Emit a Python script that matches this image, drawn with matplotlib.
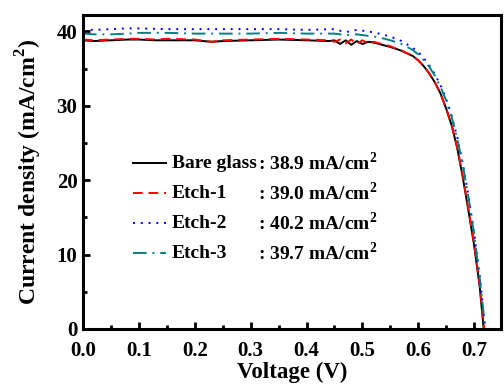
import matplotlib
matplotlib.use("Agg")
import matplotlib.pyplot as plt
from matplotlib.ticker import MultipleLocator, FormatStrFormatter

plt.rcParams['font.family'] = ['Liberation Serif', 'DejaVu Serif']
plt.rcParams['font.weight'] = 'bold'
plt.rcParams['mathtext.fontset'] = 'custom'
plt.rcParams['mathtext.rm'] = 'Liberation Serif:bold'
plt.rcParams['mathtext.bf'] = 'Liberation Serif:bold'

# Bare glass
v_bare = [0.0, 0.02, 0.05, 0.08, 0.1, 0.13, 0.15, 0.2, 0.23, 0.25, 0.3, 0.35, 0.4, 0.44,
          0.45, 0.46, 0.47, 0.48, 0.49, 0.50, 0.51, 0.52, 0.53, 0.55, 0.57, 0.59, 0.60,
          0.61, 0.62, 0.63, 0.64, 0.65, 0.66, 0.67, 0.68, 0.69, 0.70, 0.71, 0.717]
j_bare = [38.8, 38.7, 38.8, 38.9, 38.9, 38.8, 38.8, 38.8, 38.6, 38.7, 38.8, 38.9, 38.8, 38.7,
          38.8, 38.3, 38.8, 38.2, 38.7, 38.3, 38.6, 38.5, 38.3, 37.9, 37.4, 36.7, 36.1,
          35.3, 34.3, 33.1, 31.6, 29.6, 27.3, 24.2, 20.2, 15.8, 11.2, 5.6, 0.0]

# Etch-1
v_e1 = [0.0, 0.02, 0.05, 0.08, 0.1, 0.13, 0.15, 0.2, 0.23, 0.25, 0.3, 0.35, 0.4, 0.44,
        0.45, 0.46, 0.47, 0.48, 0.49, 0.50, 0.51, 0.52, 0.53, 0.55, 0.57, 0.59, 0.60,
        0.61, 0.62, 0.63, 0.64, 0.65, 0.66, 0.67, 0.68, 0.69, 0.70, 0.71, 0.718]
j_e1 = [38.9, 38.8, 38.9, 39.0, 39.0, 38.9, 39.0, 38.9, 38.6, 38.8, 38.9, 39.0, 38.9, 38.8,
        38.6, 38.9, 38.4, 38.9, 38.3, 38.8, 38.4, 38.6, 38.4, 38.0, 37.4, 36.7, 36.1,
        35.3, 34.3, 33.1, 31.6, 29.6, 27.3, 24.3, 20.4, 16.0, 11.4, 5.9, 0.0]

# Etch-2
v_e2 = [0.0, 0.02, 0.05, 0.08, 0.1, 0.15, 0.2, 0.25, 0.3, 0.35, 0.4, 0.45, 0.47, 0.49,
        0.51, 0.53, 0.55, 0.57, 0.59, 0.60, 0.61, 0.62, 0.63, 0.64, 0.65, 0.66, 0.67,
        0.68, 0.69, 0.70, 0.71, 0.72]
j_e2 = [40.2, 40.2, 40.3, 40.4, 40.4, 40.3, 40.3, 40.3, 40.3, 40.3, 40.2, 40.3, 39.9, 40.2,
        40.0, 39.7, 39.3, 38.7, 37.8, 37.2, 36.4, 35.4, 34.2, 32.7, 30.9, 28.6, 25.7,
        22.1, 17.8, 12.9, 7.0, 0.0]

# Etch-3
v_e3 = [0.0, 0.02, 0.05, 0.08, 0.1, 0.15, 0.2, 0.25, 0.3, 0.35, 0.4, 0.45, 0.47, 0.49,
        0.51, 0.53, 0.55, 0.57, 0.59, 0.60, 0.61, 0.62, 0.63, 0.64, 0.65, 0.66, 0.67,
        0.68, 0.69, 0.70, 0.71, 0.72]
j_e3 = [39.7, 39.6, 39.6, 39.7, 39.8, 39.8, 39.7, 39.7, 39.7, 39.8, 39.7, 39.7, 39.5, 39.6,
        39.4, 39.2, 38.8, 38.3, 37.5, 36.9, 36.1, 35.2, 34.0, 32.5, 30.7, 28.4, 25.5,
        21.9, 17.6, 12.7, 6.8, 0.0]

labels = ['Bare glass', 'Etch-1', 'Etch-2', 'Etch-3']
jsc_texts = [': 38.9 mA/cm$^{2}$', ': 39.0 mA/cm$^{2}$', ': 40.2 mA/cm$^{2}$', ': 39.7 mA/cm$^{2}$']
colors = ['black', 'red', 'blue', '#008080']
styles = ['-', (0, (5, 3)), (0, (1, 3)), (0, (7, 3, 1, 3))]

fig = plt.figure(figsize=(5.04, 3.9), dpi=100)
ax = fig.add_axes([83/504, 1 - 329/390, (501 - 83)/504, (329 - 15)/390])

series = [(v_bare, j_bare), (v_e1, j_e1), (v_e2, j_e2), (v_e3, j_e3)]
for (v, j), c, ls in zip(series, colors, styles):
    ax.plot(v, j, color=c, linestyle=ls, linewidth=1.4)

ax.set_xlim(0, 0.748)
ax.set_ylim(0, 42.2)
ax.xaxis.set_major_locator(MultipleLocator(0.1))
ax.xaxis.set_minor_locator(MultipleLocator(0.05))
ax.yaxis.set_major_locator(MultipleLocator(10))
ax.yaxis.set_minor_locator(MultipleLocator(5))
ax.xaxis.set_major_formatter(FormatStrFormatter('%.1f'))
ax.tick_params(which='both', direction='in', top=False, right=False, width=2,
               labelsize=15)
ax.tick_params(axis='x', which='major', pad=9)
ax.tick_params(axis='y', which='major', pad=4)
ax.tick_params(which='major', length=5)
ax.tick_params(which='minor', length=3)
for s in ax.spines.values():
    s.set_linewidth(2.2)
for lab in ax.get_xticklabels() + ax.get_yticklabels():
    lab.set_fontweight('bold')

ax.set_xlabel('Voltage (V)', fontsize=16.5, fontweight='bold', labelpad=0.5)
ax.set_ylabel('Current density (mA/cm$^{2}$)', fontsize=17, fontweight='bold', labelpad=9)

# manual legend
trans = ax.transAxes
def ax_x(px):
    return (px - 83) / (501 - 83)
def ax_y(py):
    return (329 - py) / (329 - 15)
rows = [163, 193, 223, 253]
for lab, txt, c, ls, ry in zip(labels, jsc_texts, colors, styles, rows):
    ax.plot([ax_x(133), ax_x(166)], [ax_y(ry), ax_y(ry)], color=c, linestyle=ls,
            linewidth=1.4, transform=trans)
    ax.text(ax_x(172), ax_y(ry), lab, transform=trans, fontsize=14, fontweight='bold',
            va='center', ha='left')
    ax.text(ax_x(258), ax_y(ry), txt, transform=trans, fontsize=14, fontweight='bold',
            va='center', ha='left')

fig.savefig('out.png', dpi=100)
